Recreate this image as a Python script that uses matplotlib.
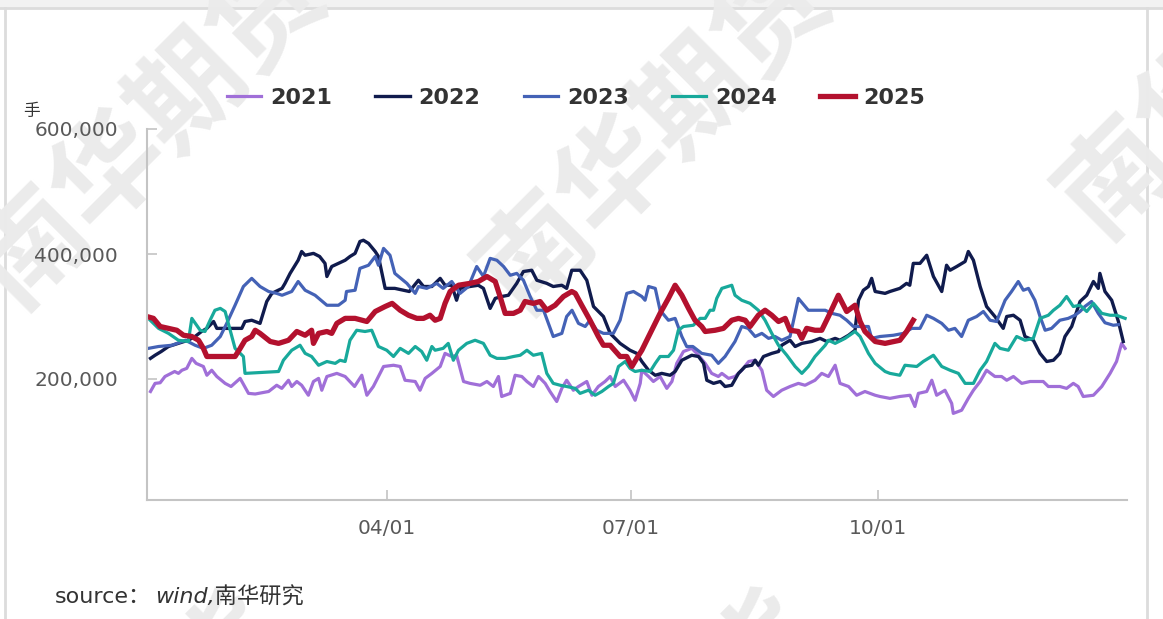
import numpy as np
import matplotlib
matplotlib.use("Agg")
import matplotlib.pyplot as plt
from matplotlib.lines import Line2D
from matplotlib.patches import Rectangle

plt.rcParams['font.family'] = ['DejaVu Sans', 'Noto Sans CJK SC']

# day of year (0 = 01/01), values in thousand lots (千手)
d2021 = [2, 3.7, 5.6, 7.4, 11, 12.4, 13.7, 15.5, 17.4, 19, 21.7, 23, 24.8, 26.7, 29.8, 32, 35.4, 38.5, 41, 46, 49, 50.9,
         53.4, 54.6, 56.5, 58.3, 60.8, 62.7, 64.6, 65.8, 67.7, 71.4, 74.5, 78, 80.7, 82.6, 85, 86.9, 88.8, 92.5,
         95, 96.8, 100.6, 102.4, 104.3, 106.8, 109.9, 111.7, 114.2, 116, 118.6, 121, 124.8, 127.3, 129.7, 131.6,
         132.8, 136, 137.8, 140.3, 142.2, 144.6, 146.5, 149, 150.8, 153.3, 155.2, 157, 159.5, 161.4, 164.5, 166.4,
         168.8, 171.3, 173.2, 175.1, 178.2, 180.6, 182.5,
         184.4, 185, 187.5, 189.3, 191.8, 194.3, 196.2, 198, 200.5, 203.6, 206.1, 208.6, 211, 213.5, 214.8, 217.3,
         219.7, 222.2, 224.8, 227.2, 229.7, 231.5, 234, 237.1, 240.2, 243.3, 245.8, 249.5, 252, 254.5, 257, 258.8,
         262, 265, 268.1, 271.9,
         273.7, 277.4, 281.1, 284.9, 286.7, 288, 291.1, 293, 294.8, 297.9, 300.4, 301, 304.1, 306.6, 308.5, 311,
         313.4, 316.5, 319, 320.9, 323.4, 326.5, 329.6, 334.5, 336.4, 340.7, 343.2, 345.7, 347.5, 349.4, 353.2,
         356.3, 359.4, 361.8, 363.7, 365]
v2021 = [180, 193, 194, 204, 212, 209, 214, 217, 233, 225, 220, 206, 214, 204, 193, 188, 201, 177, 176, 180, 190, 185,
         198, 188, 196, 190, 174, 196, 201, 182, 204, 209, 204, 188, 206, 174, 188, 204, 220, 222,
         220, 198, 196, 182, 201, 209, 220, 241, 236, 238, 196, 193, 190, 196, 188, 204,
         172, 177, 206, 204, 196, 188, 204, 193, 180, 164, 185, 198, 182, 188, 196, 174,
         188, 196, 204, 188, 198, 182, 166,
         193, 214, 204, 196, 204, 185, 196, 225, 244, 249, 238, 225, 209, 204, 209, 201,
         204, 214, 228, 230, 214, 182, 172, 182, 188, 193, 190, 198, 209, 204, 222, 193,
         188, 174, 180, 174,
         172, 169, 172, 174, 156, 177, 180, 198, 174, 182, 161, 145, 150, 169, 182, 196,
         214, 204, 204, 198, 204, 193, 196, 196, 188, 188, 185, 193, 188, 172, 174,
         188, 209, 228, 257, 249]

d2022 = [2, 3.7, 6, 8.7, 12.4, 16, 18.6, 21, 23, 25.5, 26.7, 36, 37.2, 39.7, 42.8, 45.3, 47.2, 51, 52.1, 54, 57, 58.3,
         59.6, 62.7, 65, 67, 67.7, 69.5, 72, 74.5, 76.3, 78.2, 80, 81.3, 83.2, 85.7, 86.9, 89.4, 93,
         96.2, 98.4, 101.8, 103.7, 106.8, 109.9, 111.7, 114.2, 116, 117.3, 121, 124.1, 126, 128.5, 130.4, 132.8,
         135.3, 138.4, 140.9, 144, 145.9, 149.6, 152, 155.2, 157, 158.9, 162, 164.5, 167, 170.7, 173.2, 176.9,
         180.6, 183.1,
         185, 187.5, 190, 192.4, 195.5, 197.4, 199.9, 203.6, 206.1, 208, 209.2, 211.7, 214.2, 216, 218.5, 221,
         223.5, 226, 227.2, 228.4, 230.3, 233.4, 235.9, 237.1, 240.2, 242.1, 244.6, 248.3, 251.4, 253.9, 257,
         258.8, 262, 264.4, 265.7, 267.5, 269.4, 270.6, 271.9, 275.6,
         277.4, 281.1, 283.6, 284.8, 286.1, 288.6, 291.1, 293.6, 296.7, 298.5, 299.8, 302.3, 305.4, 306.6, 308.5,
         311, 313.4, 316.5, 319.6, 320.9, 323.4, 325.9, 327.7, 330.8, 333.3, 335.8, 338.3, 340.7, 342.6, 345.1,
         348.2, 350.7, 353.2, 355, 355.6, 357.5, 360, 362.5, 364.3]
v2022 = [233, 238, 244, 252, 257, 262, 268, 276, 281, 292, 281, 281, 292, 294, 289, 324, 337, 345, 353, 369, 390, 404,
         398, 401, 396, 385, 364, 380, 385, 390, 396, 401, 420, 422, 417, 404, 396, 345, 345,
         342, 340, 358, 348, 348, 361, 350, 350, 326, 345, 348, 350, 345, 313, 329, 332,
         334, 353, 372, 374, 358, 353, 348, 350, 345, 374, 374, 358, 316, 300, 273, 257,
         246, 241,
         228, 214, 206, 209, 206, 212, 230, 238, 236, 225, 198, 193, 196, 188, 190, 209,
         220, 222, 230, 222, 236, 241, 244, 254, 262, 252, 257, 260, 265, 260, 265,
         262, 270, 278, 326, 342, 348, 361, 340, 337,
         340, 345, 353, 350, 385, 385, 398, 364, 340, 382, 374, 380, 388, 404, 390,
         348, 316, 300, 281, 300, 302, 294, 268, 262, 241, 228, 230, 241, 268, 284,
         324, 334, 356, 345, 369, 340, 326, 292, 260]

d2023 = [1.2, 5, 10, 15, 18.6, 21.7, 24.8, 28, 30.4, 33.5, 36.6, 39.7, 42.8, 46, 49, 51, 54.6, 57, 59.6, 63.3, 67.7,
         72, 74.5, 75, 78.2, 80, 83.2, 85.7, 86.9, 88.8, 91.2, 93,
         97.5, 100.6, 101.8, 104.9, 108.6, 111, 114.2, 117.3, 120.4, 123.5, 126, 128.5, 131, 133.5, 136, 138.4,
         140.9, 143.4, 145.9, 148.4, 150.2, 152, 155.2, 157, 159, 161.4, 163.9, 165.7, 168.2, 170.7, 174.4, 176.9,
         179.4, 181.9,
         185, 186.2, 187.5, 190, 191.8, 194.9, 197.4, 199.9, 201.7, 204, 207.3, 211, 213.5, 216, 219.7, 222.2,
         224.6, 227.2, 229.7, 232.2, 234.6, 237.1, 240.2, 243.3, 247, 250.2, 253.3, 255.8, 258.8, 261.3, 263.8,
         266.9, 269.4, 270.6, 273.7,
         278.7, 282.4, 285.5, 288.6, 291.1, 293.6, 296.7, 299.2, 301.6, 304.1, 306.6, 309.7, 312.2, 314.7, 317.1,
         320.3, 322.7, 325.2, 327.1, 329, 331.4, 333.3, 335.2, 337.6, 340.7, 343.8, 346.3, 348.2, 350, 352.5,
         355, 357.5, 360.6, 362.5]
v2023 = [249, 252, 254, 262, 254, 249, 254, 268, 289, 318, 348, 361, 348, 340, 337, 334, 340, 356, 342, 334, 318,
         318, 326, 340, 342, 377, 382, 396, 382, 409, 398, 369,
         353, 337, 348, 345, 353, 345, 356, 337, 348, 380, 364, 393, 390, 380, 366, 369,
         358, 332, 310, 310, 289, 268, 273, 300, 310, 289, 284, 294, 278, 273, 273, 294,
         337, 340,
         332, 326, 348, 345, 310, 294, 297, 268, 252, 252, 241, 238, 225, 236, 260, 284,
         281, 268, 273, 265, 268, 262, 268, 329, 310, 310, 310, 305, 302, 294, 284,
         284, 284, 265, 268,
         270, 273, 281, 281, 302, 297, 289, 278, 281, 268, 294, 300, 308, 294, 292,
         326, 340, 356, 342, 345, 326, 300, 278, 281, 294, 297, 302, 308, 316, 324,
         305, 290, 286, 287]

d2024 = [1.9, 5, 8.7, 12.4, 16.1, 17.4, 20.5, 22.3, 24.2, 26, 28, 29.8, 31.7, 33.5, 36.6, 37.2, 49.7, 51.5, 54.6,
         57.7, 59.6, 62, 64.6, 67.7, 70.8, 72.6, 74.5, 76.3, 78.8, 81.9, 84.4, 86.9, 90, 92.5,
         95, 98.1, 100.6, 103, 104.9, 106.8, 108, 111, 112.9, 114.8, 116.7, 119.8, 122.9, 126, 128.5, 131, 134.1,
         137.2, 139.7, 142.2, 144.6, 147.7, 149.6, 152, 154.6, 157, 160.2, 162, 165.1, 167.6, 170.1, 172.6, 174.4,
         176.3, 178.8, 180.6, 182.5,
         185, 188.1, 190, 191.8, 194.9, 196.8, 198.6, 200.5, 204.2, 206.7, 208.6, 210.4, 211.7, 212.9, 214.8,
         218.5, 219.7, 222.2, 225.3, 228.4, 230.9, 233.4, 235.9, 239, 242.1, 244.6, 247, 249.5, 253.3, 254.5, 257,
         260.7, 264.4, 266.3, 269.4, 271.9, 275.6,
         277.4, 281.1, 283, 287.4, 289.8, 293.6, 296.7, 299.8, 302.9, 305.4, 308.5, 311, 313.4, 316.5, 318.4,
         321.5, 324.6, 327.7, 330.8, 333.3, 336.4, 338.3, 340.7, 343.2, 345.7, 348.2, 350.7, 353.2, 356.3, 359.4,
         361.8, 365]
v2024 = [294, 281, 273, 262, 260, 297, 278, 276, 294, 310, 313, 308, 278, 249, 236, 209, 212, 230, 246,
         254, 241, 236, 222, 228, 225, 230, 228, 262, 278, 276, 278, 252, 246, 236,
         249, 241, 252, 244, 230, 252, 246, 249, 257, 230, 246, 257, 262, 257, 238, 233, 233,
         236, 238, 246, 238, 241, 209, 193, 190, 188, 185, 177, 182, 174, 180, 188, 193,
         220, 228, 217, 212,
         214, 212, 225, 236, 236, 246, 278, 284, 286, 297, 297, 310, 310, 329, 345,
         350, 334, 326, 321, 310, 294, 273, 254, 238, 220, 209, 220, 236, 254, 262, 257,
         265, 276, 268, 241, 225, 212,
         209, 206, 222, 220, 228, 238, 220, 214, 209, 193, 193, 214, 228, 257, 249,
         246, 268, 262, 265, 297, 302, 310, 318, 332, 316, 318, 308, 321, 305, 302,
         302, 297]

d2025 = [0.6, 3.1, 5.6, 8.7, 11.8, 14.3, 17.4, 19.9, 21.7, 23, 33.5, 35.4, 37.2, 39.7, 41, 42.8, 46.6, 49.7, 53.4,
         56.5, 59.6, 62, 62.7, 64.6, 67.7, 69.5, 71.4, 74.5, 78.2, 82.6, 85.7, 89.4, 92,
         95, 98.1, 101.2, 103.7, 106.1, 108, 109.9, 111.7, 113.6, 116.7, 121, 124.1, 127.3, 130.4, 132.2, 134.1,
         137.2, 139.7, 141.5, 144.6, 147.1, 149.6, 152.7, 155.8, 158.9, 160.2, 162.6, 165.7, 168.8, 170.7, 173.2,
         176.9, 179.4, 181.3,
         183.1, 185, 188.1, 191.8, 194.9, 197.4, 199.9, 202.4, 204.8, 207.3, 208.6, 212.3, 215.4, 218.5, 221,
         223.5, 225.3, 228.4, 230.9, 233.4, 235.9, 238.4, 240.2, 243.3, 244.6, 246.4, 249.5, 252, 254.5, 258.2,
         261.3, 264.4, 266.3, 268.1, 271.9, 275.6, 281.1, 283.6, 286.1]
v2025 = [300, 297, 284, 281, 278, 270, 268, 262, 249, 236, 236, 249, 262, 268, 278, 273, 260, 257, 262,
         276, 270, 278, 257, 273, 276, 273, 289, 297, 297, 292, 308, 316, 321,
         310, 302, 297, 297, 302, 294, 297, 321, 340, 350, 353, 356, 364, 356, 332, 305,
         305, 310, 324, 321, 324, 310, 318, 332, 340, 337, 318, 294, 268, 254, 254,
         236, 236, 220,
         233, 246, 273, 305, 329, 350, 334, 313, 294, 284, 276, 278, 281, 294, 297,
         294, 284, 302, 310, 302, 292, 297, 278, 276, 265, 281, 278, 278, 300, 334,
         308, 318, 292, 276, 260, 257, 262, 276, 294]

years = ['2021', '2022', '2023', '2024', '2025']
days = [d2021, d2022, d2023, d2024, d2025]
values = [v2021, v2022, v2023, v2024, v2025]
colors = ['#a06fd8', '#101b4d', '#4462b6', '#18a99b', '#b3112e']
widths = [2.3, 2.4, 2.3, 2.3, 3.8]

tick_days = [90, 181, 273]
tick_labels = ['04/01', '07/01', '10/01']
y_ticks = [200000, 400000, 600000]

W, H = 1163, 619
fig = plt.figure(figsize=(W / 100, H / 100), dpi=100)

# frame of the card
fig.patches.append(Rectangle((0, 1 - 8 / H), 1, 8 / H, transform=fig.transFigure,
                             facecolor='#f2f2f2', edgecolor='none', zorder=-3))
fig.add_artist(Line2D([0, 1], [1 - 8 / H, 1 - 8 / H], transform=fig.transFigure, color='#dcdcdc', lw=2, zorder=-2))
fig.add_artist(Line2D([5 / W, 5 / W], [0, 1 - 8 / H], transform=fig.transFigure, color='#dcdcdc', lw=2, zorder=-2))
fig.add_artist(Line2D([1147 / W, 1147 / W], [0, 1 - 8 / H], transform=fig.transFigure, color='#dcdcdc', lw=2,
                      zorder=-2))

# watermarks
for cx, cy in [(150, 130), (655, 135), (1235, 60), (110, 770), (645, 770)]:
    fig.text(cx / W, 1 - cy / H, '南华期货', rotation=45, ha='center', va='center', fontsize=80,
             color='#ebebeb', family=['Noto Sans CJK SC'], fontweight='bold', zorder=-1)

ax = fig.add_axes([147 / W, 1 - 500 / H, 980 / W, 371 / H])
ax.set_facecolor('none')

for yr, d, v, c, lw in zip(years, days, values, colors, widths):
    ax.plot(d, np.array(v) * 1000, color=c, lw=lw, label=yr, solid_joinstyle='round')

ax.set_xlim(0.7, 365.7)
ax.set_ylim(6400, 600000)
ax.set_xticks(tick_days)
ax.set_xticklabels(tick_labels)
ax.set_yticks(y_ticks)
ax.set_yticklabels([f'{t:,}' for t in y_ticks])

for s in ['top', 'right']:
    ax.spines[s].set_visible(False)
for s in ['left', 'bottom']:
    ax.spines[s].set_color('#c4c4c4')
    ax.spines[s].set_linewidth(1.5)
ax.tick_params(direction='in', length=7, width=1.2, color='#c4c4c4', labelcolor='#595959', labelsize=14.5)
ax.tick_params(axis='y', pad=21)
ax.tick_params(axis='x', pad=14)

fig.text(23 / W, 1 - 111 / H, '手', fontsize=12, color='#333333', ha='left', va='center')

leg = fig.legend(loc='center', bbox_to_anchor=(576 / W, 1 - 98 / H), ncol=5, frameon=False,
                 handlelength=1.55, handletextpad=0.4, columnspacing=1.95,
                 prop={'size': 16, 'weight': 'bold'})
for t in leg.get_texts():
    t.set_color('#333333')

fig.text(55 / W, 1 - 597 / H, 'source：', fontsize=16, color='#333333', ha='left', va='center')
fig.text(155 / W, 1 - 597 / H, 'wind,南华研究', fontsize=16, color='#333333', ha='left', va='center',
         style='italic')

fig.savefig('out.png', dpi=100)
